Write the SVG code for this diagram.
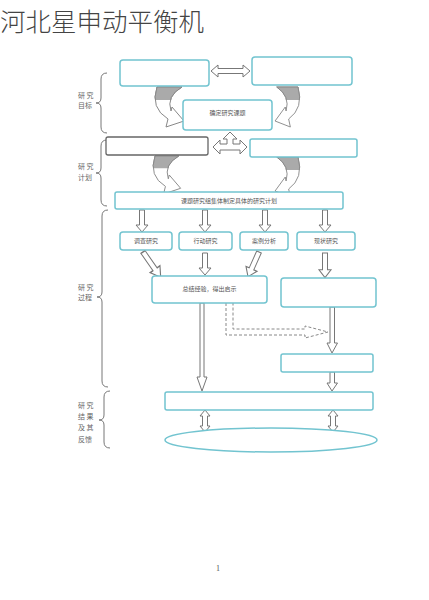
<svg xmlns="http://www.w3.org/2000/svg" width="429" height="600" viewBox="0 0 429 600">
<style>
.box{fill:#fff;stroke:#72c4d0;stroke-width:1.5}
.dark{fill:#fff;stroke:#666;stroke-width:1.3}
.ha{fill:#fff;stroke:#777;stroke-width:1}
.brace{fill:none;stroke:#777;stroke-width:1}
.lbl{font-family:"Noto Sans CJK SC",sans-serif;font-size:7px;fill:#666}
.t{font-family:"Noto Sans CJK SC",sans-serif;font-size:6px;fill:#555;text-anchor:middle}
</style>
<defs>
<clipPath id="topc"><rect x="-20" y="-2" width="60" height="15"/></clipPath>
<g id="curl">
<path d="M0,0 L25,0 Q9,9 14,24 L15,20 L27,34 L9,40 L11,32 Q-7,21 0,0 Z" fill="#fff" stroke="#888" stroke-width="1"/>
<path d="M0,0 L25,0 Q9,9 14,24 L15,20 L27,34 L9,40 L11,32 Q-7,21 0,0 Z" fill="#aaa" stroke="#888" stroke-width="1" clip-path="url(#topc)"/>
</g>
<path id="down" d="M-2.5,0 H2.5 V15 H6 L0,22 L-6,15 H-2.5 Z"/>
</defs>
<text x="0" y="31" font-family="Noto Sans CJK SC,sans-serif" font-size="25.5" font-weight="300" fill="#444">河北星申动平衡机</text>

<g id="braces">
<path class="brace" d="M107,73 Q101,73 101,79 L101,98 Q101,103 96,103 Q101,103 101,108 L101,127 Q101,133 107,133"/>
<path class="brace" d="M107,140 Q101,140 101,146 L101,168 Q101,173 96,173 Q101,173 101,178 L101,200 Q101,206 107,206"/>
<path class="brace" d="M108,210 Q102,210 102,216 L102,292 Q102,297 97,297 Q102,297 102,302 L102,381 Q102,387 108,387"/>
<path class="brace" d="M110,391 Q104,391 104,397 L104,415 Q104,420 99,420 Q104,420 104,425 L104,442 Q104,448 110,448"/>
</g>
<g id="labels">
<text class="lbl" x="78" y="98">研 究</text>
<text class="lbl" x="78" y="108">目标</text>
<text class="lbl" x="78" y="169">研 究</text>
<text class="lbl" x="78" y="180">计划</text>
<text class="lbl" x="78" y="290">研 究</text>
<text class="lbl" x="78" y="300">过程</text>
<text class="lbl" x="78" y="408">研 究</text>
<text class="lbl" x="78" y="419">结 果</text>
<text class="lbl" x="78" y="430">及 其</text>
<text class="lbl" x="78" y="442">反馈</text>
</g>

<g id="connectors">
<polygon class="ha" points="211,71 218,65 218,68.5 243,68.5 243,65 250,71 243,77 243,73.5 218,73.5 218,77"/>
<use href="#curl" transform="translate(157,87)"/>
<use href="#curl" transform="translate(298,87) scale(-0.85,1)"/>
<polygon class="ha" points="230,132 237,139 233,139 233,144 240,144 240,140 247,147 240,154 240,150 220,150 220,154 213,147 220,140 220,144 227,144 227,139 223,139"/>
<use href="#curl" transform="translate(155,156) scale(0.95)"/>
<use href="#curl" transform="translate(298,157) scale(-0.85,1)"/>
<use href="#down" class="ha" transform="translate(142,210)"/>
<use href="#down" class="ha" transform="translate(205,210)"/>
<use href="#down" class="ha" transform="translate(265,210)"/>
<use href="#down" class="ha" transform="translate(325,210)"/>
<use href="#down" class="ha" transform="translate(143,252) rotate(-35) scale(1,1.4)"/>
<use href="#down" class="ha" transform="translate(205,253)"/>
<use href="#down" class="ha" transform="translate(259,252) rotate(24) scale(1,1.23)"/>
<use href="#down" class="ha" transform="translate(325,253) scale(1,1.12)"/>
<path class="ha" d="M200,303 H204 V377 H207 L202,391 L197,377 H200 Z"/>
<path d="M226,303 V335 H305 V338 L328,332 L305,326 V329 H233 V303" fill="none" stroke="#888" stroke-width="1" stroke-dasharray="3,2"/>
<path class="ha" d="M330,307 H334.5 V343 H337.5 L332,353 L327,343 H330 Z"/>
<path class="ha" d="M330,372 H334.5 V383 H337.5 L332,391 L327,383 H330 Z"/>
<path class="ha" d="M205,410 L210,416 H207.5 V426 H210 L205,432 L200,426 H202.5 V416 H200 Z"/>
<path class="ha" d="M333,410 L338,416 H335.5 V426 H338 L333,432 L328,426 H330.5 V416 H328 Z"/>
</g>

<g id="nodeA"><rect class="box" x="120" y="60" width="89" height="26" rx="3"/></g>
<g id="nodeB"><rect class="box" x="252" y="57" width="100" height="28" rx="3"/></g>
<g id="nodeTopic"><rect class="box" x="183" y="100" width="89" height="30" rx="3"/><text class="t" x="227.5" y="115">确定研究课题</text></g>
<g id="nodeC"><rect class="dark" x="106" y="137" width="102" height="18" rx="2"/></g>
<g id="nodeD"><rect class="box" x="250" y="139" width="107" height="18" rx="2"/></g>
<g id="nodePlan"><rect class="box" x="115" y="192" width="228" height="17" rx="2"/><text class="t" x="229" y="203">课题研究组集体制定具体的研究计划</text></g>
<g id="node1"><rect class="box" x="120" y="232" width="52" height="18" rx="3"/><text class="t" x="146" y="243">调查研究</text></g>
<g id="node2"><rect class="box" x="179" y="232" width="53" height="18" rx="3"/><text class="t" x="205.5" y="243">行动研究</text></g>
<g id="node3"><rect class="box" x="240" y="232" width="48" height="18" rx="3"/><text class="t" x="264" y="243">案例分析</text></g>
<g id="node4"><rect class="box" x="297" y="232" width="58" height="18" rx="3"/><text class="t" x="326" y="243">现状研究</text></g>
<g id="nodeSum"><rect class="box" x="152" y="276" width="115" height="27" rx="3"/><text class="t" x="209.5" y="291">总结经验，得出启示</text></g>
<g id="nodeR"><rect class="box" x="281" y="278" width="95" height="29" rx="3"/></g>
<g id="nodeE"><rect class="box" x="281" y="354" width="92" height="18" rx="2"/></g>
<g id="nodeF"><rect class="box" x="165" y="392" width="208" height="18" rx="2"/></g>
<g id="nodeEllipse"><ellipse cx="271" cy="440" rx="106" ry="12" fill="#fff" stroke="#72c4d0" stroke-width="1.5"/></g>
<text x="216" y="571" font-family="Liberation Serif,serif" font-size="8" fill="#555">1</text>
</svg>
